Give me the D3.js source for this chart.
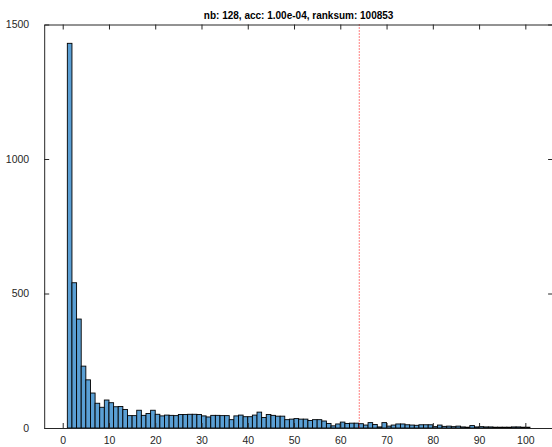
<!DOCTYPE html>
<html>
<head>
<meta charset="utf-8">
<script src="https://cdn.jsdelivr.net/npm/d3@7"></script>
<style>
  html, body { margin: 0; padding: 0; background: #fff; }
  svg { display: block; font-family: "Liberation Sans", Arial, Helvetica, sans-serif; }
</style>
</head>
<body>
<svg id="chart" width="552" height="447"></svg>
<script>
// Histogram of ranks: one unit-wide bin per rank, starting at 1
const binStart = 1;
const counts = [
  1430, 540, 405, 230, 179, 130, 92, 77, 104, 94,
  79, 80, 69, 46, 46, 66, 47, 54, 66, 51,
  45, 48, 47, 46, 50, 50, 51, 51, 50, 45,
  41, 47, 47, 46, 46, 31, 45, 48, 42, 42,
  48, 59, 39, 50, 47, 44, 44, 31, 33, 35,
  33, 33, 28, 31, 31, 26, 17, 8, 15, 22,
  17, 18, 18, 16, 11, 20, 13, 4, 20, 7,
  11, 15, 15, 12, 11, 10, 12, 12, 12, 5,
  11, 6, 7, 5, 7, 4, 3, 9, 4, 5,
  4, 4, 3, 3, 3, 3, 4, 4, 3, 3
];
const xTicks = [0, 10, 20, 30, 40, 50, 60, 70, 80, 90, 100];
const yTicks = [0, 500, 1000, 1500];
const xDomain = [-4, 106];
const yDomain = [0, 1500];
const threshold = 64.1;
const titleText = "nb: 128, acc: 1.00e-04, ranksum: 100853";

const svg = d3.select("#chart");
const plotLeft = 44.2, plotRight = 553.1, plotTop = 24.5, plotBottom = 428;
const axisColor = "#262626";
const tickLen = 5;
const fmt = d3.format("d");

const x = d3.scaleLinear().domain(xDomain).range([plotLeft, plotRight]);
const y = d3.scaleLinear().domain(yDomain).range([plotBottom, plotTop]);

// bars
svg.append("g")
  .selectAll("rect")
  .data(counts)
  .join("rect")
  .attr("x", (d, i) => x(binStart + i))
  .attr("width", (d, i) => x(binStart + i + 1) - x(binStart + i))
  .attr("y", d => y(d))
  .attr("height", d => y(0) - y(d))
  .attr("fill", "#5a9fd4")
  .attr("stroke", "#000")
  .attr("stroke-width", 0.9);

// dotted marker line
svg.append("line")
  .attr("x1", x(threshold)).attr("x2", x(threshold))
  .attr("y1", y(yDomain[1])).attr("y2", y(0))
  .attr("stroke", "#ff0000")
  .attr("stroke-width", 1)
  .attr("stroke-dasharray", "1,2");

// axes: bottom, top, left, right with inward ticks
const bottomAxis = d3.axisBottom(x).tickValues(xTicks).tickFormat(fmt).tickSizeInner(-tickLen).tickSizeOuter(0).tickPadding(9);
const topAxis = d3.axisTop(x).tickValues(xTicks).tickSizeInner(-tickLen).tickSizeOuter(0).tickFormat("");
const leftAxis = d3.axisLeft(y).tickValues(yTicks).tickFormat(fmt).tickSizeInner(-tickLen).tickSizeOuter(0).tickPadding(15);
const rightAxis = d3.axisRight(y).tickValues(yTicks).tickSizeInner(-tickLen).tickSizeOuter(0).tickFormat("");

function style(g) {
  g.select(".domain").attr("stroke", axisColor).attr("stroke-width", 1);
  g.selectAll(".tick line").attr("stroke", axisColor).attr("stroke-width", 1);
  g.selectAll(".tick text").attr("fill", axisColor).style("font-size", "10.5px")
    .style("font-family", "'Liberation Sans', Arial, Helvetica, sans-serif");
}

svg.append("g").attr("transform", `translate(0,${plotBottom})`).call(bottomAxis).call(style);
svg.append("g").attr("transform", `translate(0,${plotTop})`).call(topAxis).call(style);
svg.append("g").attr("transform", `translate(${plotLeft},0)`).call(leftAxis).call(style);
svg.append("g").attr("transform", `translate(${plotRight},0)`).call(rightAxis).call(style);

// title
svg.append("text")
  .attr("x", (plotLeft + plotRight) / 2)
  .attr("y", 18.5)
  .attr("text-anchor", "middle")
  .attr("fill", "#000")
  .style("font-size", "10px")
  .style("font-weight", "bold")
  .text(titleText);
</script>
</body>
</html>
